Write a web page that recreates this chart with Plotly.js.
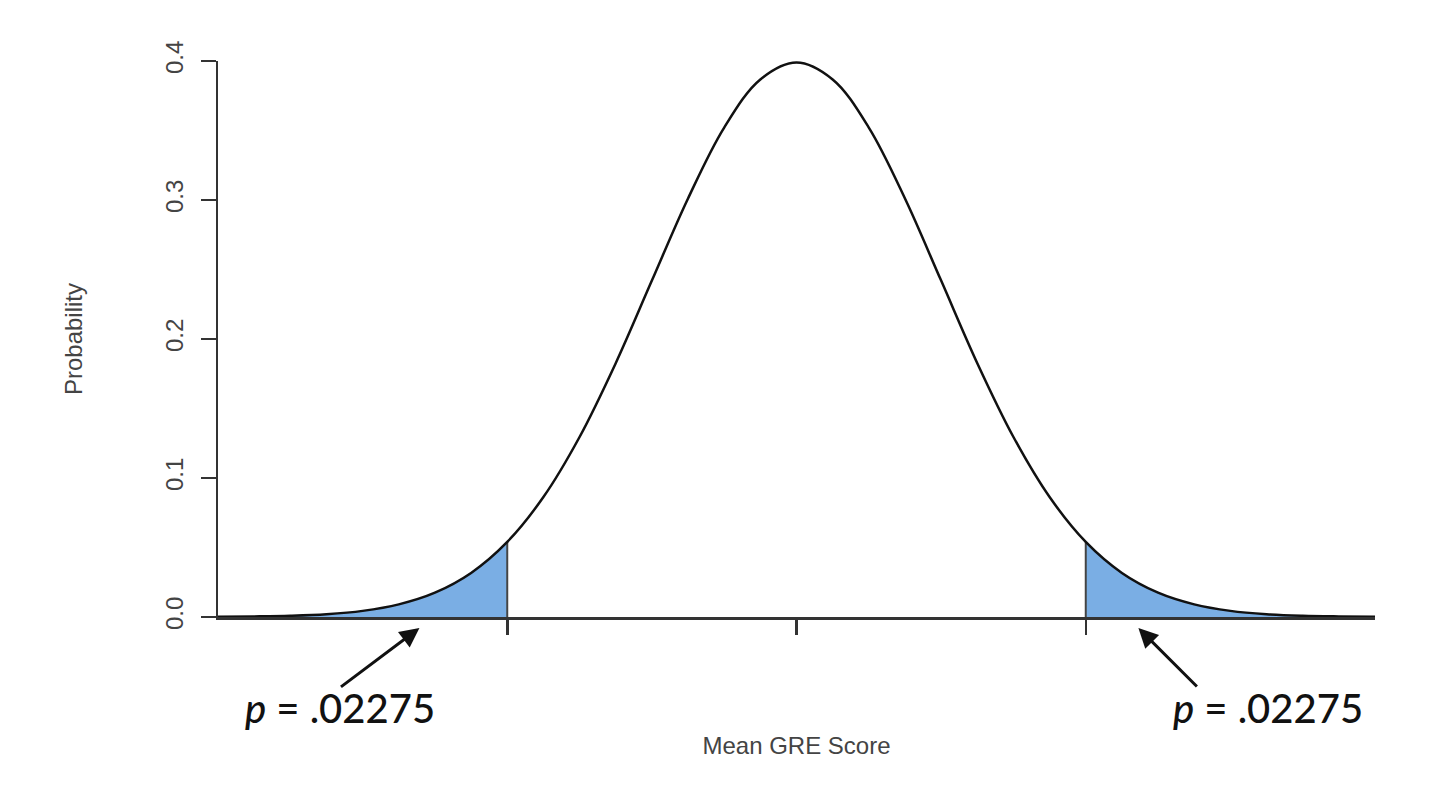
<!DOCTYPE html>
<html>
<head>
<meta charset="utf-8">
<script src="https://cdn.plot.ly/plotly-3.0.1.min.js"></script>
<style>
html,body{margin:0;padding:0;background:#fff;}
#chart{width:1440px;height:800px;}
</style>
</head>
<body>
<div id="chart"></div>
<script>
// Values (standard normal density shape)
const xValues = [-4,-3.75,-3.5,-3.25,-3,-2.75,-2.5,-2.25,-2,-1.75,-1.5,-1.25,-1,-0.75,-0.5,-0.25,0,0.25,0.5,0.75,1,1.25,1.5,1.75,2,2.25,2.5,2.75,3,3.25,3.5,3.75,4];
const density = [0.0001,0.0004,0.0009,0.0020,0.0044,0.0091,0.0175,0.0317,0.0540,0.0863,0.1295,0.1826,0.2420,0.3011,0.3521,0.3867,0.3989,0.3867,0.3521,0.3011,0.2420,0.1826,0.1295,0.0863,0.0540,0.0317,0.0175,0.0091,0.0044,0.0020,0.0009,0.0004,0.0001];
const cutoffs = [-2, 2];
const tickValues = [-2, 0, 2];
const yTickValues = [0, 0.1, 0.2, 0.3, 0.4];
const yTickLabels = ["0.0", "0.1", "0.2", "0.3", "0.4"];
const pLabel = "<i>p</i> = .02275";
const xTitle = "Mean GRE Score";
const yTitle = "Probability";

const leftX = [], leftY = [], rightX = [], rightY = [];
xValues.forEach((x, i) => {
  if (x <= cutoffs[0]) { leftX.push(x); leftY.push(density[i]); }
  if (x >= cutoffs[1]) { rightX.push(x); rightY.push(density[i]); }
});
const cutY = cutoffs.map(c => density[xValues.indexOf(c)]);

const fillColor = "#7aaee4";
const traces = [
  {x: leftX, y: leftY, type: "scatter", mode: "lines", fill: "tozeroy",
   fillcolor: fillColor, line: {width: 0, shape: "spline", color: fillColor}, hoverinfo: "skip"},
  {x: rightX, y: rightY, type: "scatter", mode: "lines", fill: "tozeroy",
   fillcolor: fillColor, line: {width: 0, shape: "spline", color: fillColor}, hoverinfo: "skip"},
  {x: [cutoffs[0], cutoffs[0]], y: [0, cutY[0]], type: "scatter", mode: "lines",
   line: {color: "#444", width: 2}},
  {x: [cutoffs[1], cutoffs[1]], y: [0, cutY[1]], type: "scatter", mode: "lines",
   line: {color: "#444", width: 2}},
  {x: xValues, y: density, type: "scatter", mode: "lines",
   line: {color: "#111", width: 2.5, shape: "spline"}}
];

const annFont = {family: "Lato, sans-serif", size: 40, color: "#111", weight: 500};
const layout = {
  width: 1440, height: 800,
  margin: {l: 218, r: 65, t: 61, b: 183},
  paper_bgcolor: "#fff", plot_bgcolor: "#fff",
  showlegend: false,
  font: {family: "'Liberation Sans', Arial, sans-serif", color: "#444"},
  xaxis: {
    range: [-4, 4], showgrid: false, zeroline: false,
    showline: true, linecolor: "#333", linewidth: 2.5,
    ticks: "outside", ticklen: 15, tickwidth: 2.5, tickcolor: "#333",
    tickvals: tickValues, showticklabels: false, automargin: true,
    title: {text: xTitle, font: {size: 24, color: "#444"}, standoff: 104}
  },
  yaxis: {
    range: [0, 0.4], showgrid: false, zeroline: false,
    showline: true, linecolor: "#333", linewidth: 2.5,
    ticks: "outside", ticklen: 15, tickwidth: 2.5, tickcolor: "#333",
    tickvals: yTickValues, ticktext: yTickLabels, tickangle: -90,
    ticklabelstandoff: 8, automargin: true,
    tickfont: {size: 24, color: "#444"},
    title: {text: yTitle, font: {size: 24, color: "#444"}, standoff: 72}
  },
  annotations: [
    {xref: "x", yref: "paper", x: -2.607, y: -0.0198, ax: -80, ay: 60,
     showarrow: true, arrowhead: 2, arrowsize: 1.3, arrowwidth: 3, arrowcolor: "#111", text: ""},
    {xref: "x", yref: "paper", x: 2.364, y: -0.0198, ax: 60, ay: 60,
     showarrow: true, arrowhead: 2, arrowsize: 1.3, arrowwidth: 3, arrowcolor: "#111", text: ""},
    {xref: "x", yref: "paper", x: -3.154, y: -0.1637, xanchor: "center", yanchor: "middle",
     showarrow: false, text: pLabel, font: annFont},
    {xref: "x", yref: "paper", x: 3.258, y: -0.1637, xanchor: "center", yanchor: "middle",
     showarrow: false, text: pLabel, font: annFont}
  ]
};

Plotly.newPlot("chart", traces, layout, {displayModeBar: false, staticPlot: true});
</script>
</body>
</html>
